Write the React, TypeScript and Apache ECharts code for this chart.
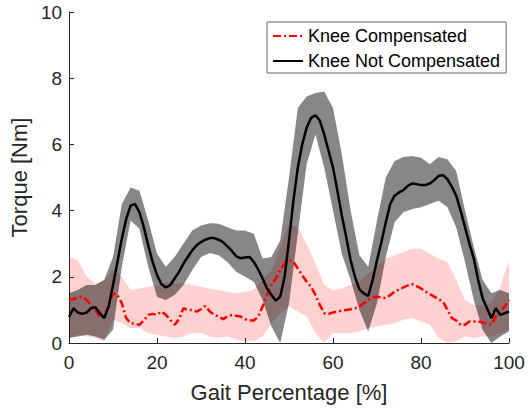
import React, { useEffect, useRef } from "react";
import * as echarts from "echarts";

// Gait percentage positions for the mean curves (1 % steps)
const gaitPct: number[] = [
  0, 1, 2, 3, 4, 5, 6, 7, 8, 9, 10, 11, 12, 13, 14, 15, 16, 17, 18, 19,
  20, 21, 22, 23, 24, 25, 26, 27, 28, 29, 30, 31, 32, 33, 34, 35, 36, 37, 38, 39,
  40, 41, 42, 43, 44, 45, 46, 47, 48, 49, 50, 51, 52, 53, 54, 55, 56, 57, 58, 59,
  60, 61, 62, 63, 64, 65, 66, 67, 68, 69, 70, 71, 72, 73, 74, 75, 76, 77, 78, 79,
  80, 81, 82, 83, 84, 85, 86, 87, 88, 89, 90, 91, 92, 93, 94, 95, 96, 97, 98, 99, 100,
];

// Knee Not Compensated – mean torque [Nm]
const notCompMean: number[] = [
  0.79, 1.05, 0.92, 0.88, 0.92, 1.05, 1.08, 0.9, 0.75, 1.1,
  1.75, 2.45, 3.15, 3.75, 4.15, 4.2, 3.95, 3.5, 2.95, 2.45,
  2.05, 1.78, 1.68, 1.75, 1.95, 2.15, 2.4, 2.6, 2.8, 2.95,
  3.05, 3.12, 3.17, 3.17, 3.12, 3.05, 2.92, 2.78, 2.62, 2.56,
  2.58, 2.6, 2.45, 2.22, 1.95, 1.65, 1.45, 1.28, 1.4, 2.0,
  3.1, 4.3, 5.3, 6.0, 6.5, 6.8, 6.88, 6.72, 6.3, 5.8,
  5.3, 4.6, 3.85, 3.2, 2.5, 2.0, 1.62, 1.5, 1.42, 1.9,
  2.5, 3.05, 3.65, 4.2, 4.45, 4.55, 4.62, 4.75, 4.82, 4.8,
  4.77, 4.77, 4.82, 4.92, 5.05, 5.07, 4.95, 4.72, 4.45, 4.0,
  3.5, 3.0, 2.55, 1.9, 1.35, 1.05, 0.75, 1.05, 0.85, 0.9,
  0.95,
];

// Knee Compensated – mean torque [Nm]
const compMean: number[] = [
  1.3, 1.33, 1.37, 1.4, 1.3, 1.15, 1.0, 0.78, 0.82, 1.15,
  1.5, 1.45, 1.2, 0.75, 0.6, 0.58, 0.55, 0.68, 0.85, 0.88,
  0.85, 0.95, 0.85, 0.7, 0.55, 0.72, 1.05, 1.0, 1.0, 0.95,
  1.02, 1.12, 0.95, 0.85, 0.8, 0.72, 0.8, 0.85, 0.82, 0.8,
  0.72, 0.68, 0.68, 0.8, 1.1, 1.45, 1.75, 1.95, 2.2, 2.4,
  2.5, 2.45, 2.25, 2.05, 1.85, 1.7, 1.45, 1.15, 0.9, 0.88,
  0.92, 0.95, 0.98, 1.0, 1.02, 1.05, 1.1, 1.2, 1.3, 1.38,
  1.4, 1.38, 1.35, 1.45, 1.55, 1.62, 1.68, 1.74, 1.78, 1.72,
  1.65, 1.55, 1.48, 1.4, 1.32, 1.25, 1.0, 0.75, 0.68, 0.55,
  0.55, 0.65, 0.65, 0.65, 0.62, 0.58, 0.55, 0.8, 0.95, 1.1,
  1.3,
];

// Gait percentage positions for the spread bands (2 % steps)
const bandPct: number[] = [
  0, 2, 4, 6, 8, 10, 12, 14, 16, 18, 20, 22, 24, 26, 28, 30, 32, 34, 36, 38,
  40, 42, 44, 46, 48, 50, 52, 54, 56, 58, 60, 62, 64, 66, 68, 70, 72, 74, 76, 78,
  80, 82, 84, 86, 88, 90, 92, 94, 96, 98, 100,
];

const notCompUpper: number[] = [
  1.5, 1.6, 1.75, 1.75, 1.9, 2.6, 4.2, 4.7, 4.6, 3.7,
  2.7, 2.3, 2.6, 3.0, 3.4, 3.55, 3.62, 3.6, 3.5, 3.4,
  3.4, 3.3, 2.55, 2.6, 3.1, 5.0, 7.1, 7.45, 7.55, 7.6,
  7.1, 5.7, 4.0, 2.65, 2.3, 3.7, 5.0, 5.5, 5.62, 5.65,
  5.6, 5.4, 5.62, 5.55, 5.2, 4.0, 2.9, 1.9, 1.5, 1.6,
  1.5,
];
const notCompLower: number[] = [
  0.15, 0.2, 0.25, 0.2, 0.1, 0.4, 2.3, 3.7, 3.45, 2.3,
  1.4, 1.3, 1.45, 1.75, 2.2, 2.6, 2.72, 2.65, 2.45, 2.15,
  2.0, 1.85, 1.3, 0.5, 0.0, 1.2, 3.3, 5.4, 6.3, 5.3,
  4.0, 2.7, 1.9, 1.0, 0.35, 1.2, 2.6, 3.65, 3.95, 4.05,
  4.1, 4.2, 4.3, 4.1, 3.5, 2.45, 1.3, 0.4, 0.0, 0.2,
  0.35,
];
const compUpper: number[] = [
  2.6, 2.5, 2.0, 1.8, 1.9, 2.2, 2.0, 1.6, 1.65, 1.7,
  1.75, 1.85, 1.8, 1.8, 1.75, 1.7, 1.65, 1.6, 1.55, 1.5,
  1.55, 1.6, 1.9, 2.2, 2.9, 3.6, 3.5, 3.0, 2.4, 1.75,
  1.6, 1.65, 1.75, 1.85, 2.1, 2.3, 2.55, 2.65, 2.75, 2.85,
  2.85, 2.7, 2.55, 2.45, 1.9, 1.3, 1.15, 1.15, 1.2, 1.7,
  2.5,
];
const compLower: number[] = [
  0.15, 0.25, 0.2, 0.15, 0.05, 0.7, 0.6, 0.45, 0.45, 0.3,
  0.25, 0.2, 0.15, 0.2, 0.3, 0.3, 0.2, 0.15, 0.2, 0.1,
  0.05, 0.05, 0.2, 0.6, 0.9, 1.1, 0.95, 0.8, 0.3, 0.0,
  0.3, 0.3, 0.3, 0.35, 0.45, 0.5, 0.55, 0.6, 0.7, 0.75,
  0.65, 0.55, 0.15, 0.0, 0.05, 0.2, 0.15, 0.2, 0.2, 0.3,
  0.4,
];

const xTicks = { min: 0, max: 100, interval: 20 };
const yTicks = { min: 0, max: 10, interval: 2 };

const FONT = "'Liberation Sans', Arial, Helvetica, sans-serif";
const INK = "#262626";

function bandSeries(upper: number[], lower: number[], fill: string) {
  return {
    type: "custom",
    silent: true,
    clip: true,
    data: [[bandPct[0], lower[0]]],
    encode: { x: 0, y: 1 },
    renderItem: (params: any, api: any) => {
      const pts: number[][] = [];
      for (let i = 0; i < bandPct.length; i++) pts.push(api.coord([bandPct[i], upper[i]]));
      for (let i = bandPct.length - 1; i >= 0; i--) pts.push(api.coord([bandPct[i], lower[i]]));
      return { type: "polygon", shape: { points: pts }, style: { fill, stroke: "none" } };
    },
    z: 1,
  };
}

export default function App() {
  const ref = useRef<HTMLDivElement>(null);
  useEffect(() => {
    document.body.style.margin = "0";
    if (!ref.current) return;
    const chart = echarts.init(ref.current, undefined, { renderer: "svg" });
    chart.setOption({
      animation: false,
      backgroundColor: "#ffffff",
      textStyle: { fontFamily: FONT, color: INK },
      grid: { left: 69, right: 23, top: 12, bottom: 66, containLabel: false },
      legend: {
        data: ["Knee Compensated", "Knee Not Compensated"],
        orient: "vertical",
        left: 267,
        top: 22,
        itemWidth: 30,
        itemHeight: 18,
        itemGap: 7,
        padding: [5, 6, 3, 5],
        borderColor: "#666666",
        borderWidth: 1,
        backgroundColor: "#ffffff",
        itemStyle: { opacity: 0 },
        textStyle: { fontFamily: FONT, fontSize: 18, color: "#000000" },
        selectedMode: false,
      },
      xAxis: {
        type: "value",
        ...xTicks,
        name: "Gait Percentage [%]",
        nameLocation: "middle",
        nameGap: 38,
        nameTextStyle: { fontFamily: FONT, fontSize: 22, color: INK },
        axisLine: { show: true, onZero: false, lineStyle: { color: INK, width: 1 } },
        axisTick: { show: true, inside: true, length: 5, lineStyle: { color: INK } },
        axisLabel: { fontFamily: FONT, fontSize: 19, color: INK, margin: 10 },
        splitLine: { show: false },
      },
      yAxis: {
        type: "value",
        ...yTicks,
        name: "Torque [Nm]",
        nameLocation: "middle",
        nameGap: 35,
        nameTextStyle: { fontFamily: FONT, fontSize: 22, color: INK },
        axisLine: { show: true, onZero: false, lineStyle: { color: INK, width: 1 } },
        axisTick: { show: true, inside: true, length: 5, lineStyle: { color: INK } },
        axisLabel: { fontFamily: FONT, fontSize: 19, color: INK, margin: 7 },
        splitLine: { show: false },
      },
      series: [
        bandSeries(compUpper, compLower, "rgba(255,0,0,0.18)"),
        bandSeries(notCompUpper, notCompLower, "rgba(0,0,0,0.47)"),
        {
          name: "Knee Compensated",
          type: "line",
          data: gaitPct.map((x, i) => [x, compMean[i]]),
          symbol: "none",
          showSymbol: false,
          lineStyle: { color: "#ff0000", width: 2.5, type: [8, 3, 2, 3] },
          itemStyle: { color: "#ff0000" },
          z: 3,
        },
        {
          name: "Knee Not Compensated",
          type: "line",
          data: gaitPct.map((x, i) => [x, notCompMean[i]]),
          symbol: "none",
          showSymbol: false,
          lineStyle: { color: "#000000", width: 2.5 },
          itemStyle: { color: "#000000" },
          z: 4,
        },
      ],
    });
    return () => chart.dispose();
  }, []);
  return <div ref={ref} style={{ width: 532, height: 409 }} />;
}
